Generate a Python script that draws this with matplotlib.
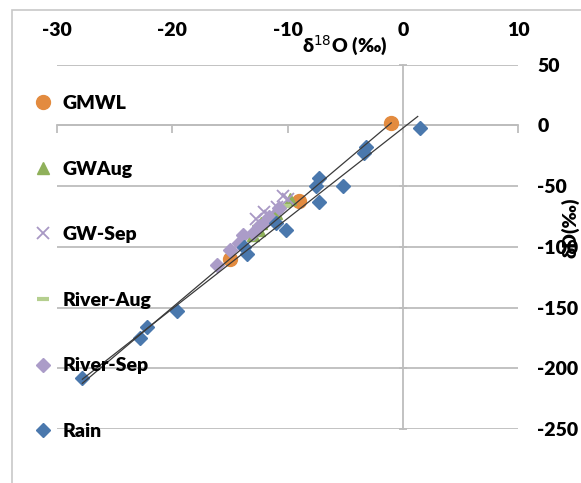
import numpy as np
import matplotlib.pyplot as plt
from matplotlib.patches import Rectangle

plt.rcParams['font.family'] = ['Lato', 'DejaVu Sans']
plt.rcParams['axes.unicode_minus'] = False

# isotope data (delta 18O, delta D in permil)
gmwl_x = [-15.0, -9.0, -1.0]
gmwl_y = [-110.0, -62.0, 2.0]

gwaug_x = [-12.3, -12.5, -9.8, -11.0, -13.0]
gwaug_y = [-80.0, -86.0, -61.0, -72.0, -90.0]

gwsep_x = [-10.4, -10.0, -12.0, -10.9, -11.5, -12.7]
gwsep_y = [-58.0, -61.0, -71.5, -67.0, -75.0, -77.0]

riveraug_x = [-12.6, -11.5, -10.2]
riveraug_y = [-84.0, -76.0, -66.0]

riversep_x = [-16.1, -15.0, -14.2, -13.9, -13.0, -11.8, -11.6, -10.7, -12.5]
riversep_y = [-115.0, -103.0, -97.0, -90.0, -89.0, -78.0, -75.5, -68.0, -83.0]

rain_x = [1.5, -3.2, -3.4, -7.3, -7.5, -5.2, -7.3, -10.1, -11.0, -13.5, -13.8,
          -19.6, -22.2, -22.8, -27.8]
rain_y = [-2.0, -18.0, -23.0, -43.0, -50.0, -50.0, -63.0, -86.0, -80.0, -106.0,
          -100.0, -153.0, -166.0, -175.0, -208.0]

xticks = [-30, -20, -10, 0, 10]
yticks = [50, 0, -50, -100, -150, -200, -250]

grid_c = '#bdbdbd'
fs = 14
fw = 'heavy'

fig = plt.figure(figsize=(5.81, 4.83), dpi=100)
ax = fig.add_axes([57 / 581, 1 - 429 / 483, (518 - 57) / 581, (429 - 64.6) / 483])

# light frame of the chart area
fig.patches.append(Rectangle((12 / 581, -0.1), 1.2, 1.1 - 10 / 483, transform=fig.transFigure,
                             fill=False, edgecolor='#c8c8c8', lw=1.2))

ax.set_xlim(-30, 10)
ax.set_ylim(-250, 50)

for s in ['top', 'right']:
    ax.spines[s].set_visible(False)
ax.spines['left'].set_position(('data', 0))
ax.spines['bottom'].set_position(('data', 0))
for s in ['left', 'bottom']:
    ax.spines[s].set_color(grid_c)
    ax.spines[s].set_linewidth(1.3)

ax.set_xticks(xticks)
ax.set_yticks(yticks)
ax.tick_params(axis='x', direction='out', length=6, width=1.3, color=grid_c, labelbottom=False)
ax.tick_params(axis='y', direction='inout', length=6, width=1.3, color=grid_c, labelleft=False)
ax.grid(axis='y', color=grid_c, lw=1.3)
ax.set_axisbelow(True)

sx = ax.secondary_xaxis('top')
sx.set_xticks(xticks)
sx.tick_params(length=0, pad=18.5, labelsize=fs)
sx.spines['top'].set_visible(False)
for lab in sx.get_xticklabels():
    lab.set_fontweight(fw)

sy = ax.secondary_yaxis('right')
sy.set_yticks(yticks)
sy.tick_params(length=0, pad=14, labelsize=fs)
sy.spines['right'].set_visible(False)
for lab in sy.get_yticklabels():
    lab.set_fontweight(fw)

# trend lines: GMWL fit extended over the rain range, and the rain fit
p_gmwl = np.polyfit(gmwl_x, gmwl_y, 1)
p_rain = np.polyfit(rain_x, rain_y, 1)
xl = np.array([min(rain_x), max(gmwl_x)])
ax.plot(xl, np.polyval(p_gmwl, xl), color='#3a3a3a', lw=0.9, zorder=4)
xr = np.array([min(rain_x), 1.3])
ax.plot(xr, np.polyval(p_rain, xr), color='#3a3a3a', lw=0.9, zorder=4)

h1, = ax.plot(gmwl_x, gmwl_y, 'o', color='#e38b3f', ms=10, ls='none', label='GMWL', zorder=3)
h2, = ax.plot(gwaug_x, gwaug_y, '^', color='#8fb05a', ms=8, ls='none', label='GWAug', zorder=3)
h3, = ax.plot(gwsep_x, gwsep_y, 'x', color='#a898c4', ms=9, mew=1.3, ls='none', label='GW-Sep', zorder=3)
h4, = ax.plot(riveraug_x, riveraug_y, '_', color='#b5cf8f', ms=9, mew=3, ls='none', label='River-Aug', zorder=3)
h5, = ax.plot(riversep_x, riversep_y, 'D', color='#ab9cc8', ms=7, ls='none', label='River-Sep', zorder=3)
h6, = ax.plot(rain_x, rain_y, 'D', color='#4a78ad', ms=7, ls='none', label='Rain', zorder=3)

fig.legend(handles=[h1, h2, h3, h4, h5, h6], loc='upper left',
           bbox_to_anchor=(33 / 581, 1 - 95 / 483), frameon=False,
           prop={'size': fs, 'weight': fw}, handlelength=1.0, handletextpad=0.5,
           labelspacing=2.5, borderpad=0, borderaxespad=0)

fig.text(345 / 581, 1 - 46 / 483, 'δ$^{18}$O (‰)', ha='center', va='center',
         fontsize=fs, fontweight=fw)
fig.text(570 / 581, 1 - 228 / 483, 'δD(‰)', ha='center', va='center', rotation=90,
         fontsize=fs, fontweight=fw)

fig.savefig('out.png', dpi=100)
